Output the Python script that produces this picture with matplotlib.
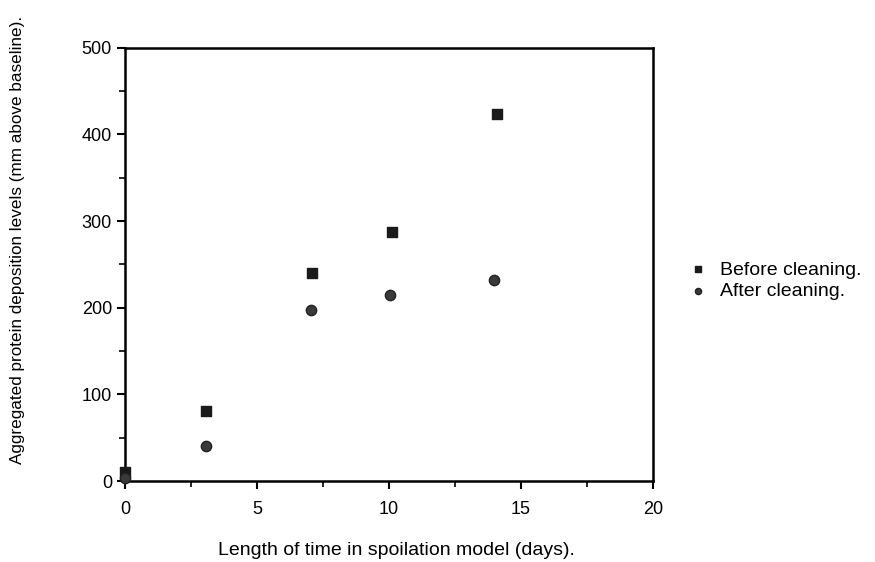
import matplotlib
matplotlib.use("Agg")
import matplotlib.pyplot as plt
from matplotlib.ticker import MultipleLocator

plt.rcParams["font.family"] = ["Liberation Sans", "DejaVu Sans"]

# data
days_before = [0, 3.05, 7.1, 10.1, 14.1]
before_cleaning = [11, 81, 240, 287, 424]
days_after = [0, 3.05, 7.05, 10.05, 14.0]
after_cleaning = [3, 41, 197, 215, 232]

x_ticks = [0, 5, 10, 15, 20]
y_ticks = [0, 100, 200, 300, 400, 500]

fig = plt.figure(figsize=(8.75, 5.62), dpi=100)
ax = fig.add_axes([0.143, 0.144, 0.603, 0.771])

ax.scatter(days_before, before_cleaning, marker="s", s=42, color="#1a1a1a",
           edgecolor="#1a1a1a", clip_on=False, zorder=3, label="Before cleaning.")
ax.scatter(days_after, after_cleaning, marker="o", s=55, color="#3a3a3a",
           edgecolor="#222222", clip_on=False, zorder=3, label="After cleaning.")

ax.set_xlim(0, 20)
ax.set_ylim(0, 500)
ax.set_xticks(x_ticks)
ax.set_yticks(y_ticks)
ax.xaxis.set_minor_locator(MultipleLocator(2.5))
ax.yaxis.set_minor_locator(MultipleLocator(50))
ax.tick_params(axis="both", which="major", direction="out", length=6, width=1.5,
               labelsize=13, colors="black")
ax.tick_params(axis="x", which="major", pad=8)
ax.tick_params(axis="both", which="minor", direction="out", length=4, width=1.2)
for spine in ax.spines.values():
    spine.set_linewidth(1.8)

ax.set_xlabel("Length of time in spoilation model (days).", fontsize=14)
ax.xaxis.set_label_coords(0.515, -0.14)
ax.set_ylabel("Aggregated protein deposition levels (mm above baseline).",
              fontsize=12.3)
ax.yaxis.set_label_coords(-0.19, 0.557)

ax.legend(loc="center left", bbox_to_anchor=(1.035, 0.463), frameon=False,
          fontsize=14, markerscale=0.6, handlelength=1.0, handletextpad=0.6,
          labelspacing=0.2)

fig.savefig("out.png", dpi=100)
